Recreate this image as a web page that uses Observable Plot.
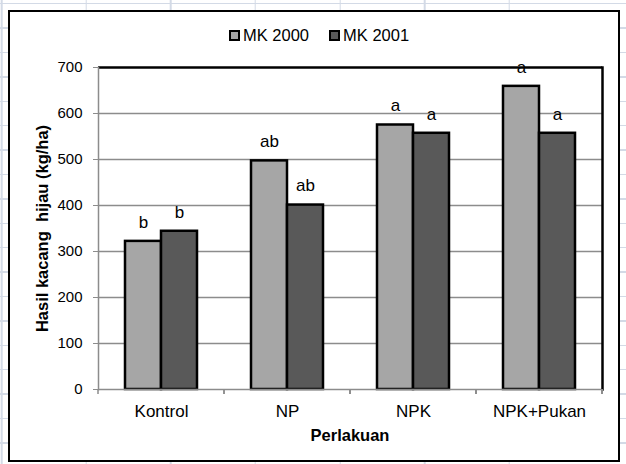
<!DOCTYPE html>
<html>
<head>
<meta charset="utf-8">
<script src="https://cdn.jsdelivr.net/npm/d3@7"></script>
<script src="https://cdn.jsdelivr.net/npm/@observablehq/plot@0.6"></script>
<style>
  html, body { margin: 0; padding: 0; background: #fff; }
  #wrap {
    position: relative; width: 626px; height: 464px; overflow: hidden;
    font-family: "Liberation Sans", Arial, sans-serif;
    background-color: #fff;
    background-image:
      repeating-linear-gradient(to right, transparent 0, transparent 83.3px, #d3dae6 83.3px, #d3dae6 84.6px),
      repeating-linear-gradient(to bottom, transparent 0, transparent 3px, #d3dae6 3px, #d3dae6 4.3px, transparent 4.3px, transparent 24.4px);
    background-position: -82.3px 0, 0 0;
  }
  #box {
    position: absolute; left: 8px; top: 10px; width: 608px; height: 448px;
    border: 2.5px solid #000; background: #fff;
  }
  #chart { position: absolute; left: 0; top: 0; }
  #legend {
    position: absolute; left: 229px; top: 26px; display: flex; align-items: center;
    font-size: 16.5px; color: #000; white-space: nowrap;
  }
  .sw { width: 7px; height: 7px; border: 2px solid #000; display: inline-block; margin-right: 3px; }
  .item { display: flex; align-items: center; margin-right: 20px; }
</style>
</head>
<body>
<div id="wrap">
  <div id="box"></div>
  <div id="chart"></div>
  <div id="legend"></div>
</div>
<script>
const categories = ["Kontrol", "NP", "NPK", "NPK+Pukan"];
const series = ["MK 2000", "MK 2001"];
const mk2000 = [322, 497, 575, 659];
const mk2001 = [344, 401, 557, 557];
const letters2000 = ["b", "ab", "a", "a"];
const letters2001 = ["b", "ab", "a", "a"];
const yTicks = [0, 100, 200, 300, 400, 500, 600, 700];
const colors = ["#a6a6a6", "#595959"];
const xTitle = "Perlakuan";
const yTitle = "Hasil kacang  hijau (kg/ha)";

const data = [];
categories.forEach((c, i) => {
  data.push({cat: c, series: series[0], value: mk2000[i], letter: letters2000[i]});
  data.push({cat: c, series: series[1], value: mk2001[i], letter: letters2001[i]});
});

const grid = "#8c8c8c";

function boundaryTicks(index, scales, values, dimensions) {
  const g = d3.create("svg:g");
  const fx = scales.fx;
  if (!fx || !scales.y) return g.node();
  const bw = fx.bandwidth ? fx.bandwidth() : 0;
  const y0 = scales.y(0);
  const edges = categories.map(c => fx(c)).concat([fx(categories[categories.length - 1]) + bw]);
  g.selectAll("line").data(edges).join("line")
    .attr("x1", d => d).attr("x2", d => d)
    .attr("y1", y0).attr("y2", y0 + 5)
    .attr("stroke", grid).attr("stroke-width", 1.5);
  return g.node();
}

const chart = Plot.plot({
  width: 626,
  height: 464,
  marginLeft: 98,
  marginRight: 24,
  marginTop: 67,
  marginBottom: 75,
  style: {background: "transparent", fontFamily: "Liberation Sans, Arial, sans-serif", color: "#000"},
  fx: {domain: categories, padding: 0, label: null},
  x: {domain: series, paddingInner: 0, paddingOuter: 0.72, axis: null},
  y: {domain: [0, 700], label: null},
  color: {domain: series, range: colors},
  marks: [
    Plot.ruleY(yTicks.filter(t => t > 0 && t < 700), {stroke: grid, strokeWidth: 1.5}),
    Plot.barY(data, {fx: "cat", x: "series", y: "value", fill: "series", stroke: "#000", strokeWidth: 2.5}),
    Plot.ruleY([0], {stroke: grid, strokeWidth: 1.5}),
    Plot.ruleY([700], {stroke: "#000", strokeWidth: 2.5}),
    Plot.frame({anchor: "right", facetAnchor: "right", stroke: "#000", strokeWidth: 2.5}),
    Plot.frame({anchor: "left", facetAnchor: "left", stroke: grid, strokeWidth: 1.5}),
    Plot.text(data, {fx: "cat", x: "series", y: "value", text: "letter", dy: -19, fontSize: 17, fill: "#000"}),
    Plot.axisY({ticks: yTicks, tickSize: 5, tickPadding: 11, stroke: grid, fontSize: 15, label: null, tickFormat: d3.format("d")}),
    Plot.axisFx({anchor: "bottom", tickSize: 0, tickPadding: 15, fontSize: 17, label: null}),
    Plot.text([yTitle], {frameAnchor: "left", facetAnchor: "left", textAnchor: "middle", text: d => d, rotate: -90, dx: -56, fontSize: 16.5, fontWeight: "bold", fill: "#000"}),
    boundaryTicks
  ]
});
document.getElementById("chart").appendChild(chart);

const svg = d3.select(chart);
svg.append("text")
  .attr("x", (98 + 602) / 2).attr("y", 441)
  .attr("text-anchor", "middle")
  .attr("font-size", 16.5).attr("font-weight", "bold")
  .attr("fill", "#000")
  .text(xTitle);

const legend = d3.select("#legend");
series.forEach((s, i) => {
  const it = legend.append("div").attr("class", "item");
  it.append("span").attr("class", "sw").style("background", colors[i]);
  it.append("span").text(s);
});
</script>
</body>
</html>
